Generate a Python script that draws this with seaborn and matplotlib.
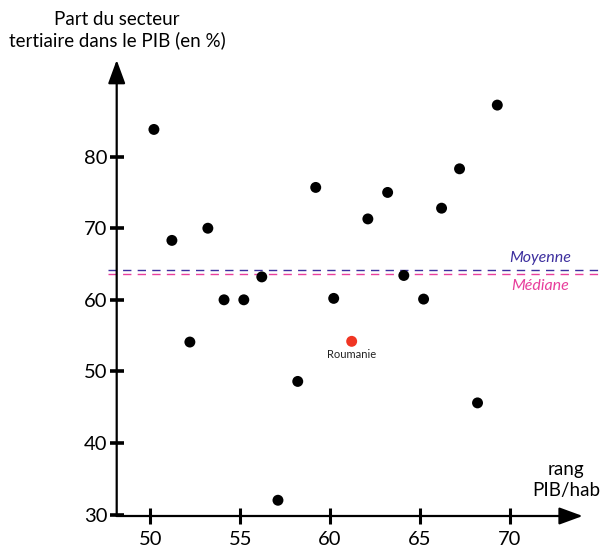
import pandas as pd
import matplotlib.pyplot as plt
import seaborn as sns

# data (rank of GDP per capita vs share of tertiary sector)
rang = [50.2, 51.2, 52.2, 53.2, 54.1, 55.2, 56.2, 57.1, 58.2, 59.2,
        60.2, 62.1, 63.2, 64.1, 65.2, 66.2, 67.2, 68.2, 69.3]
tertiaire = [83.8, 68.3, 54.1, 70.0, 60.0, 60.0, 63.2, 32.0, 48.6, 75.7,
             60.2, 71.3, 75.0, 63.4, 60.1, 72.8, 78.3, 45.6, 87.2]
roumanie_rang = [61.2]
roumanie_val = [54.2]
moyenne = 64.2
mediane = 63.6
x_ticks = [50, 55, 60, 65, 70]
y_ticks = [30, 40, 50, 60, 70, 80]

sns.set_style("white")
plt.rcParams['font.family'] = ['Lato', 'DejaVu Sans']

df = pd.DataFrame({"rang": rang, "tertiaire": tertiaire})

fig = plt.figure(figsize=(6.03, 5.51), dpi=100)
ax = fig.add_axes([116.7 / 603, 35 / 551, (582.7 - 116.7) / 603, (516 - 60) / 551])
ax.set_xlim(48.13, 74.05)
ax.set_ylim(29.8, 93.5)

sns.scatterplot(data=df, x="rang", y="tertiaire", color="black", s=62,
                edgecolor="none", ax=ax, zorder=5)
sns.scatterplot(x=roumanie_rang, y=roumanie_val, color="#f03523", s=62,
                edgecolor="none", ax=ax, zorder=5)
ax.text(roumanie_rang[0], roumanie_val[0] - 1.1, "Roumanie", ha="center",
        va="top", fontsize=8, color="#222222")

# mean / median lines
ax.plot([47.65, 75.3], [moyenne, moyenne], color="#3d2f9e", lw=1.0,
        dashes=(6, 4.5), clip_on=False)
ax.plot([47.65, 75.3], [mediane, mediane], color="#e83e9c", lw=1.0,
        dashes=(6, 4.5), clip_on=False)
ax.text(71.7, moyenne + 0.6, "Moyenne", color="#3d2f9e", style="italic",
        fontsize=11.5, ha="center", va="bottom")
ax.text(71.7, mediane - 0.7, "Médiane", color="#e83e9c", style="italic",
        fontsize=11.5, ha="center", va="top")

# axes drawn as arrows
for s in ax.spines.values():
    s.set_visible(False)
arrow = dict(arrowstyle="-|>,head_length=0.9,head_width=0.33", color="black",
             lw=1.6, shrinkA=0, shrinkB=0, mutation_scale=16)
ax.annotate("", xy=(1, 0), xytext=(0, 0), xycoords="axes fraction",
            arrowprops=arrow, annotation_clip=False)
ax.annotate("", xy=(0, 1), xytext=(0, 0), xycoords="axes fraction",
            arrowprops=arrow, annotation_clip=False)

ax.set_xticks(x_ticks)
ax.set_yticks(y_ticks)
ax.tick_params(axis="x", direction="inout", length=11, width=2.2, pad=5,
               labelsize=14.5, bottom=True, color="black", labelcolor="black")
ax.tick_params(axis="y", direction="inout", length=10, width=2.6, pad=1.5,
               labelsize=14.5, left=True, color="black", labelcolor="black")
ax.set_xlabel("")
ax.set_ylabel("")

fig.text(117 / 603, 1 - 30 / 551, "Part du secteur\ntertiaire dans le PIB (en %)",
         ha="center", va="center", fontsize=13.5, linespacing=1.25, color="black")
fig.text(566 / 603, 1 - 480 / 551, "rang\nPIB/hab", ha="center", va="center",
         fontsize=13.5, linespacing=1.25, color="black")

fig.savefig("out.png", dpi=100)
